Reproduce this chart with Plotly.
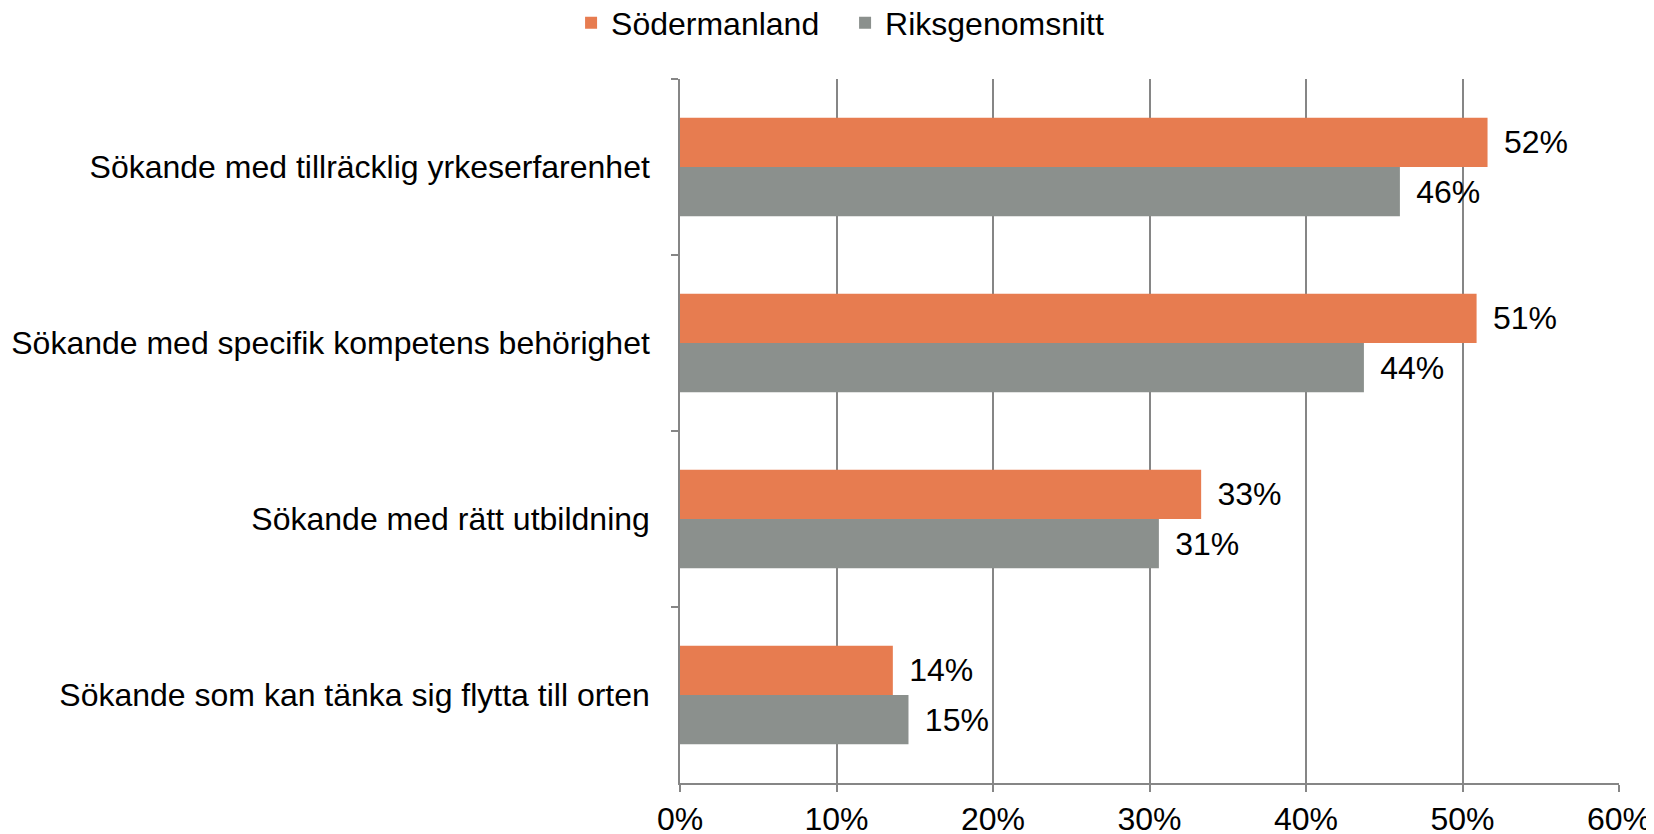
import plotly.graph_objects as go

categories = [
    "Sökande med tillräcklig yrkeserfarenhet",
    "Sökande med specifik kompetens behörighet",
    "Sökande med rätt utbildning",
    "Sökande som kan tänka sig flytta till orten",
]
sodermanland = [51.6, 50.9, 33.3, 13.6]
riksgenomsnitt = [46.0, 43.7, 30.6, 14.6]
x_ticks = [0, 10, 20, 30, 40, 50, 60]

ORANGE = "#E77C50"
GRAY = "#8B908D"
LINE = "#868686"
FONT = "Liberation Sans, Arial, sans-serif"

fig = go.Figure()
for name, vals, color in [
    ("Södermanland", sodermanland, ORANGE),
    ("Riksgenomsnitt", riksgenomsnitt, GRAY),
]:
    fig.add_trace(go.Bar(
        name=name,
        y=categories,
        x=vals,
        orientation="h",
        marker=dict(color=color, line=dict(width=0)),
        texttemplate="\u2004\u200a%{x:.0f}%",
        textposition="outside",
        cliponaxis=False,
        textfont=dict(size=32, color="#000000", family=FONT),
    ))

# page body has an 8px margin at top/left, so the figure starts at (8, 8)
fig.update_layout(
    width=1646,
    height=826,
    barmode="group",
    bargap=0.44,
    bargroupgap=0,
    plot_bgcolor="white",
    paper_bgcolor="white",
    font=dict(family=FONT, size=32, color="#000000"),
    margin=dict(l=672, r=35, t=71, b=51, autoexpand=False),
    showlegend=True,
    legend=dict(
        orientation="h",
        x=-0.116, xanchor="left",
        y=1.0795, yanchor="middle",
        font=dict(size=32),
        traceorder="normal",
        itemwidth=30,
        entrywidth=229,
    ),
    xaxis=dict(
        range=[0, 60],
        tickvals=x_ticks,
        ticktext=[f"{v}%" for v in x_ticks],
        showgrid=True,
        gridcolor=LINE,
        gridwidth=1.5,
        showline=True,
        linecolor=LINE,
        linewidth=1.5,
        ticks="outside",
        ticklen=7,
        tickcolor=LINE,
        tickwidth=1.5,
        zeroline=False,
        automargin=False,
        tickfont=dict(size=32),
        ticklabelstandoff=0,
    ),
    yaxis=dict(
        autorange="reversed",
        showline=True,
        linecolor=LINE,
        linewidth=1.5,
        ticks="outside",
        tickson="boundaries",
        ticklen=7,
        tickcolor=LINE,
        tickwidth=1.5,
        showgrid=False,
        automargin=False,
        tickfont=dict(size=32),
        ticklabelstandoff=22,
    ),
)

fig.write_html("out.html")
